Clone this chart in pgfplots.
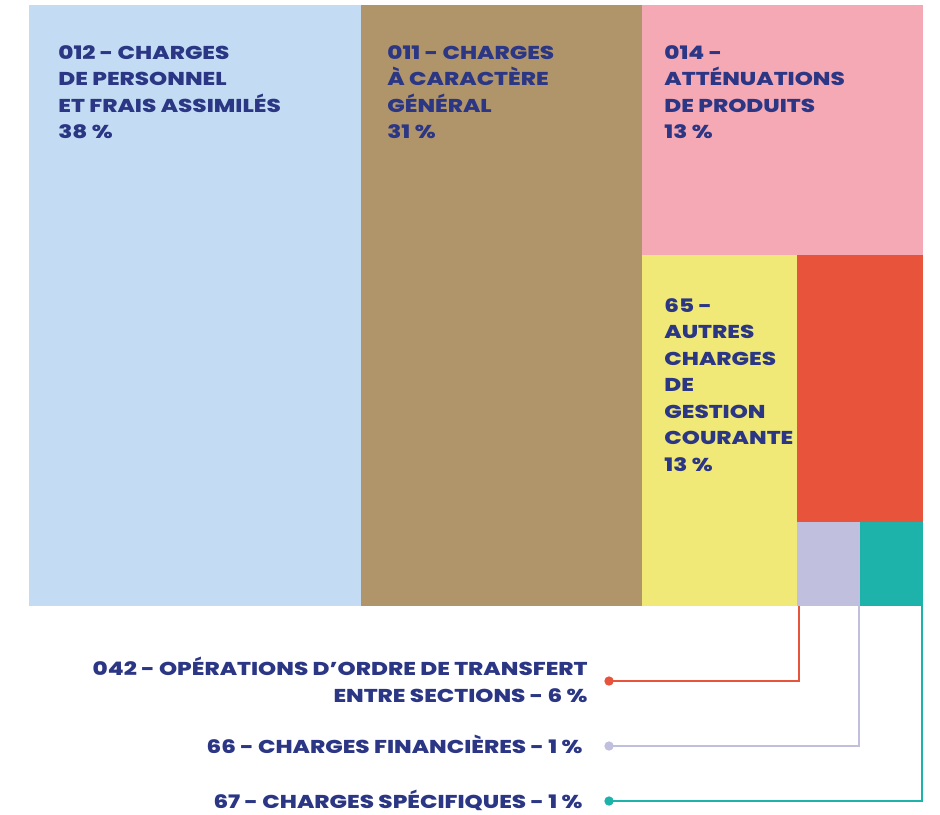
\documentclass[border=0pt]{standalone}
\usepackage{pgfplots}
\pgfplotsset{compat=1.18}
\usepackage{fontspec}
\setmainfont{Poppins}
\newfontfamily\lblfont{Poppins}[BoldFont={* ExtraBold}, FakeStretch=1.24]
\definecolor{cBlue}{HTML}{C3DCF3}
\definecolor{cTan}{HTML}{B0946A}
\definecolor{cPink}{HTML}{F4A9B4}
\definecolor{cYellow}{HTML}{F0E977}
\definecolor{cRed}{HTML}{E8543B}
\definecolor{cLav}{HTML}{C0BFDE}
\definecolor{cTeal}{HTML}{1DB3AA}
\definecolor{cText}{HTML}{2B3684}
\tikzset{lbl/.style={inner sep=0pt, text=cText, font=\lblfont\bfseries\fontsize{9.3}{13.25}\selectfont}}
\begin{document}
\begin{tikzpicture}
\begin{axis}[
  width=470pt, height=407pt, scale only axis,
  xmin=0, xmax=940, ymin=0, ymax=814, y dir=reverse,
  hide axis, clip=false,
]
% full canvas (keeps the picture's bounding box)
\addplot[draw=none, forget plot] coordinates {(0,0) (940,0) (940,814) (0,814)};
% treemap rectangles (pixel coordinates)
\addplot[fill=cBlue, draw=none] coordinates {(29,5) (361,5) (361,606) (29,606)} -- cycle;
\addplot[fill=cTan, draw=none] coordinates {(361,5) (642,5) (642,606) (361,606)} -- cycle;
\addplot[fill=cPink, draw=none] coordinates {(642,5) (923,5) (923,255) (642,255)} -- cycle;
\addplot[fill=cYellow, draw=none] coordinates {(642,255) (797,255) (797,606) (642,606)} -- cycle;
\addplot[fill=cRed, draw=none] coordinates {(797,255) (923,255) (923,522) (797,522)} -- cycle;
\addplot[fill=cLav, draw=none] coordinates {(797,522) (860,522) (860,606) (797,606)} -- cycle;
\addplot[fill=cTeal, draw=none] coordinates {(860,522) (923,522) (923,606) (860,606)} -- cycle;
% leader lines
\addplot[cRed, line width=1pt, mark=*, mark indices={3}, mark size=1.8pt, mark options={draw=none,fill=cRed}] coordinates {(798.5,606) (798.5,681) (609,681)};
\addplot[cLav, line width=1pt, mark=*, mark indices={3}, mark size=1.8pt, mark options={draw=none,fill=cLav}] coordinates {(858.5,606) (858.5,746) (609,746)};
\addplot[cTeal, line width=1pt, mark=*, mark indices={3}, mark size=1.8pt, mark options={draw=none,fill=cTeal}] coordinates {(921.5,606) (921.5,801) (609,801)};
% labels
\node[lbl, anchor=north west, align=left] at (axis cs:58,45) {012 - CHARGES\\DE PERSONNEL\\ET FRAIS ASSIMILÉS\\38 \%};
\node[lbl, anchor=north west, align=left] at (axis cs:387,45) {011 - CHARGES\\À CARACTÈRE\\GÉNÉRAL\\31 \%};
\node[lbl, anchor=north west, align=left] at (axis cs:664,45) {014 -\\ATTÉNUATIONS\\DE PRODUITS\\13 \%};
\node[lbl, anchor=north west, align=left] at (axis cs:664,298) {65 -\\AUTRES\\CHARGES\\DE\\GESTION\\COURANTE\\13 \%};
\node[lbl, anchor=north east, align=right] at (axis cs:588,657) {042 - OPÉRATIONS D’ORDRE DE TRANSFERT\\ENTRE SECTIONS - 6 \%};
\node[lbl, anchor=north east, align=right] at (axis cs:583,735) {66 - CHARGES FINANCIÈRES - 1 \%};
\node[lbl, anchor=north east, align=right] at (axis cs:583,790) {67 - CHARGES SPÉCIFIQUES - 1 \%};
\end{axis}
\end{tikzpicture}
\end{document}
